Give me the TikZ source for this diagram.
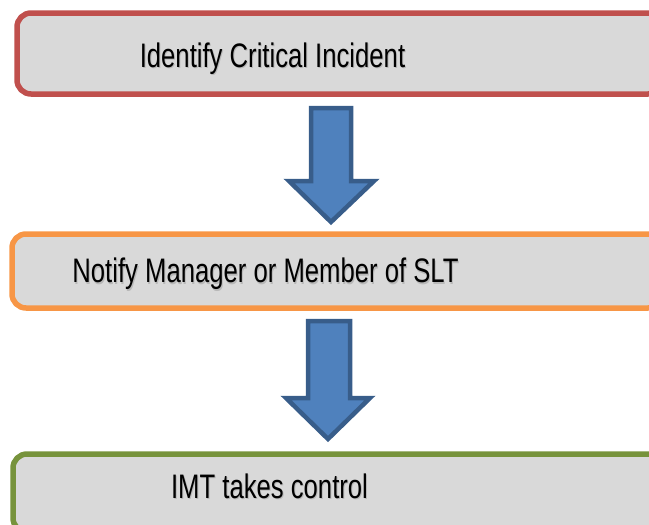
\documentclass[tikz,border=0pt]{standalone}
\usepackage{fontspec}
\setmainfont{Liberation Sans}
\usepackage{graphicx}
\definecolor{boxfill}{HTML}{D9D9D9}
\definecolor{redline}{HTML}{C0504D}
\definecolor{orangeline}{HTML}{F79646}
\definecolor{greenline}{HTML}{77933C}
\definecolor{arrowfill}{HTML}{4F81BD}
\definecolor{arrowline}{HTML}{385D8A}
\newcommand{\steptext}[1]{\scalebox{0.755}[1]{\fontsize{34}{40}\selectfont #1}}
\tikzset{
  stepbox/.style={draw, line width=5.5pt, fill=boxfill, rounded corners=14pt},
  steplabel/.style={anchor=base, inner sep=0pt, text=black},
  labelshadow/.style={anchor=base, inner sep=0pt, text=black, opacity=0.15},
  blockarrow/.style={draw=arrowline, fill=arrowfill, line width=4.5pt, line join=miter},
}
\begin{document}
\begin{tikzpicture}[x=1pt, y=-1pt]
  \useasboundingbox (0,0) rectangle (649,525);
  \clip (0,0) rectangle (649,525);

  % process boxes
  \draw[stepbox, draw=redline]    (17,13)  rectangle (662,94)  coordinate (b1);
  \draw[stepbox, draw=orangeline] (12,234) rectangle (662,308) coordinate (b2);
  \draw[stepbox, draw=greenline]  (13,454) rectangle (662,532) coordinate (b3);

  % labels with a soft drop shadow
  \node[labelshadow] at (273.5,68.5)  {\steptext{Identify Critical Incident}};
  \node[steplabel]   (t1) at (272.5,67)  {\steptext{Identify Critical Incident}};
  \node[labelshadow] at (266.5,284)  {\steptext{Notify Manager or Member of SLT}};
  \node[steplabel]   (t2) at (265.5,282.5) {\steptext{Notify Manager or Member of SLT}};
  \node[labelshadow] at (270.5,499.5)  {\steptext{IMT takes control}};
  \node[steplabel]   (t3) at (269.5,498) {\steptext{IMT takes control}};

  % downward block arrows between the steps
  \draw[blockarrow] (311,108) -- (351,108) -- (351,181) -- (374,181)
    -- (331,222) -- (289,181) -- (311,181) -- cycle;
  \draw[blockarrow] (308,321) -- (350,321) -- (350,398) -- (370,398)
    -- (328,439) -- (286,398) -- (308,398) -- cycle;
\end{tikzpicture}
\end{document}
